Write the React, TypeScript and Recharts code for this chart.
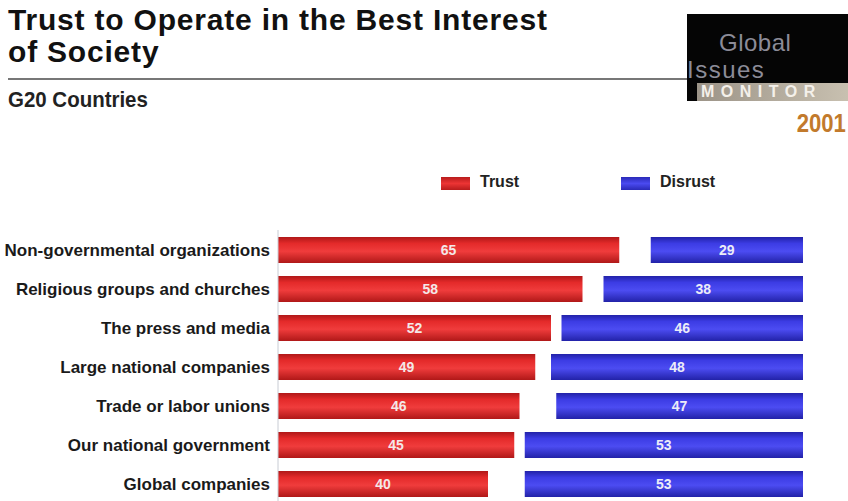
import React from "react";
import { BarChart, Bar, XAxis, YAxis, LabelList } from "recharts";

const categories = [
  "Non-governmental organizations",
  "Religious groups and churches",
  "The press and media",
  "Large national companies",
  "Trade or labor unions",
  "Our national government",
  "Global companies",
];
const trust = [65, 58, 52, 49, 46, 45, 40];
const distrust = [29, 38, 46, 48, 47, 53, 53];

// distrust is drawn flush right, so the gap fills the rest of the 100 scale
const data = categories.map((name, i) => ({
  name,
  trust: trust[i],
  gap: 100 - trust[i] - distrust[i],
  distrust: distrust[i],
}));

const FONT = "'Liberation Sans', Arial, sans-serif";

export default function App() {
  return (
    <div style={{ position: "absolute", left: 0, top: 0, width: 848, height: 501, background: "#fff", overflow: "hidden", fontFamily: FONT }}>
      {/* Titel */}
      <div style={{ position: "absolute", left: 8, top: 4, fontWeight: 700, fontSize: 30, lineHeight: "32px", letterSpacing: 0.8, color: "#111" }}>
        Trust to Operate in the Best Interest<br />of Society
      </div>
      <div style={{ position: "absolute", left: 8, top: 78, width: 682, height: 2, background: "#777" }} />
      <div style={{ position: "absolute", left: 8, top: 87, fontWeight: 700, fontSize: 22, color: "#222", transform: "scaleX(0.93)", transformOrigin: "left" }}>G20 Countries</div>

      {/* Logo */}
      <div style={{ position: "absolute", left: 687, top: 14, width: 161, height: 87, background: "#050505" }} />
      <div style={{ position: "absolute", left: 719, top: 29, fontSize: 24, lineHeight: "27px", letterSpacing: 0.5, color: "#8c8c98" }}>Global</div>
      <div style={{ position: "absolute", left: 687, top: 56, fontSize: 24, lineHeight: "27px", letterSpacing: 1.5, color: "#8c8c98" }}>Issues</div>
      <div style={{ position: "absolute", left: 697, top: 83, width: 151, height: 18, background: "linear-gradient(90deg, #9c9488, #c8c0b0)" }} />
      <div style={{ position: "absolute", left: 701, top: 83, fontWeight: 700, fontSize: 16, lineHeight: "18px", letterSpacing: 6.5, color: "#f4f0ea" }}>MONITOR</div>
      <div style={{ position: "absolute", right: 2, top: 108, fontWeight: 700, fontSize: 26, lineHeight: "30px", color: "#c27a2c", transform: "scaleX(0.85)", transformOrigin: "right" }}>2001</div>

      {/* Legende */}
      <div style={{ position: "absolute", left: 441, top: 177, width: 29, height: 13, background: "linear-gradient(180deg,#b81c1c,#ec3434 50%,#b81c1c)" }} />
      <div style={{ position: "absolute", left: 480, top: 173, fontWeight: 700, fontSize: 16, color: "#222" }}>Trust</div>
      <div style={{ position: "absolute", left: 621, top: 177, width: 29, height: 13, background: "linear-gradient(180deg,#2a2ab8,#4a4af0 50%,#2a2ab8)" }} />
      <div style={{ position: "absolute", left: 660, top: 173, fontWeight: 700, fontSize: 16, color: "#222" }}>Disrust</div>

      <BarChart
        layout="vertical"
        width={848}
        height={510}
        data={data}
        margin={{ top: 230, right: 45, bottom: 7, left: 0 }}
        style={{ position: "absolute", left: 0, top: 0 }}
      >
        <defs>
          <linearGradient id="redG" x1="0" y1="0" x2="0" y2="1">
            <stop offset="0%" stopColor="#b01818" />
            <stop offset="25%" stopColor="#e42a2a" />
            <stop offset="55%" stopColor="#f03c3c" />
            <stop offset="100%" stopColor="#b01818" />
          </linearGradient>
          <linearGradient id="blueG" x1="0" y1="0" x2="0" y2="1">
            <stop offset="0%" stopColor="#2222a8" />
            <stop offset="25%" stopColor="#3c3ce4" />
            <stop offset="55%" stopColor="#4c4cf2" />
            <stop offset="100%" stopColor="#2222a8" />
          </linearGradient>
        </defs>
        <XAxis type="number" domain={[0, 100]} hide />
        <YAxis
          type="category"
          dataKey="name"
          width={278}
          axisLine={{ stroke: "#c8ccd4" }}
          tickLine={false}
          tick={{ fontSize: 17, fontWeight: 700, fill: "#1a1a1a", fontFamily: FONT }}
        />
        <Bar dataKey="trust" stackId="a" barSize={26} fill="url(#redG)" isAnimationActive={false}>
          <LabelList dataKey="trust" position="center" fill="#f4e8e8" fontSize={14} fontWeight={700} fontFamily={FONT} />
        </Bar>
        <Bar dataKey="gap" stackId="a" barSize={26} fill="transparent" isAnimationActive={false} />
        <Bar dataKey="distrust" stackId="a" barSize={26} fill="url(#blueG)" isAnimationActive={false}>
          <LabelList dataKey="distrust" position="center" fill="#ececf8" fontSize={14} fontWeight={700} fontFamily={FONT} />
        </Bar>
      </BarChart>
    </div>
  );
}
